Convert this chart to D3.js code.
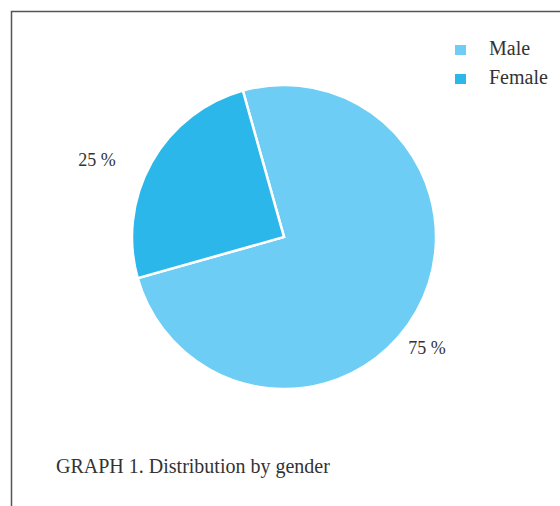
<!DOCTYPE html>
<html><head><meta charset="utf-8">
<script src="https://cdn.jsdelivr.net/npm/d3@7"></script>
<style>html,body{margin:0;padding:0;background:#fff;}</style>
</head><body>
<script>
const categories = ["Male", "Female"];
const values = [75, 25];
const labels = ["75 %", "25 %"];
const colors = ["#6dcdf5", "#2cb7ea"];
const caption = "GRAPH 1. Distribution by gender";

const W = 560, H = 506;
const svg = d3.select("body").append("svg").attr("width", W).attr("height", H);
const font = "'Liberation Serif', 'DejaVu Serif', serif";

// frame
svg.append("path").attr("d", `M11.5,${H+5} L11.5,11.5 L${W+5},11.5`)
  .attr("fill","none").attr("stroke","#555").attr("stroke-width",1.5);

const cx = 284, cy = 237, r = 152;
const start = -15.7 * Math.PI / 180;
const pie = d3.pie().sort(null).startAngle(start).endAngle(start + 2*Math.PI);
const arcs = pie(values);
const arc = d3.arc().innerRadius(0).outerRadius(r);
const g = svg.append("g").attr("transform", `translate(${cx},${cy})`);
g.selectAll("path").data(arcs).join("path")
  .attr("d", arc).attr("fill", (d,i)=>colors[i])
  .attr("stroke","#fff").attr("stroke-width",2.5).attr("stroke-linejoin","miter");

// labels
const labelPos = [[427-cx, 350-cy], [97-cx, 162-cy]];
g.selectAll("text.lbl").data(arcs).join("text").attr("class","lbl")
  .attr("x",(d,i)=>labelPos[i][0]).attr("y",(d,i)=>labelPos[i][1])
  .attr("text-anchor","middle").attr("dominant-baseline","middle")
  .attr("font-family",font).attr("font-size",18).attr("fill","#333")
  .text((d,i)=>labels[i]);

// legend
const leg = svg.append("g").attr("transform","translate(455,45)");
categories.forEach((c,i)=>{
  leg.append("rect").attr("x",0).attr("y",i*29).attr("width",11).attr("height",10).attr("fill",colors[i]);
  leg.append("text").attr("x",34).attr("y",i*29+5).attr("dominant-baseline","middle")
    .attr("font-family",font).attr("font-size",20).attr("fill","#333").text(c);
});

svg.append("text").attr("x",56).attr("y",473).attr("font-family",font).attr("font-size",20)
  .attr("fill","#333").text(caption);
</script>
</body></html>
